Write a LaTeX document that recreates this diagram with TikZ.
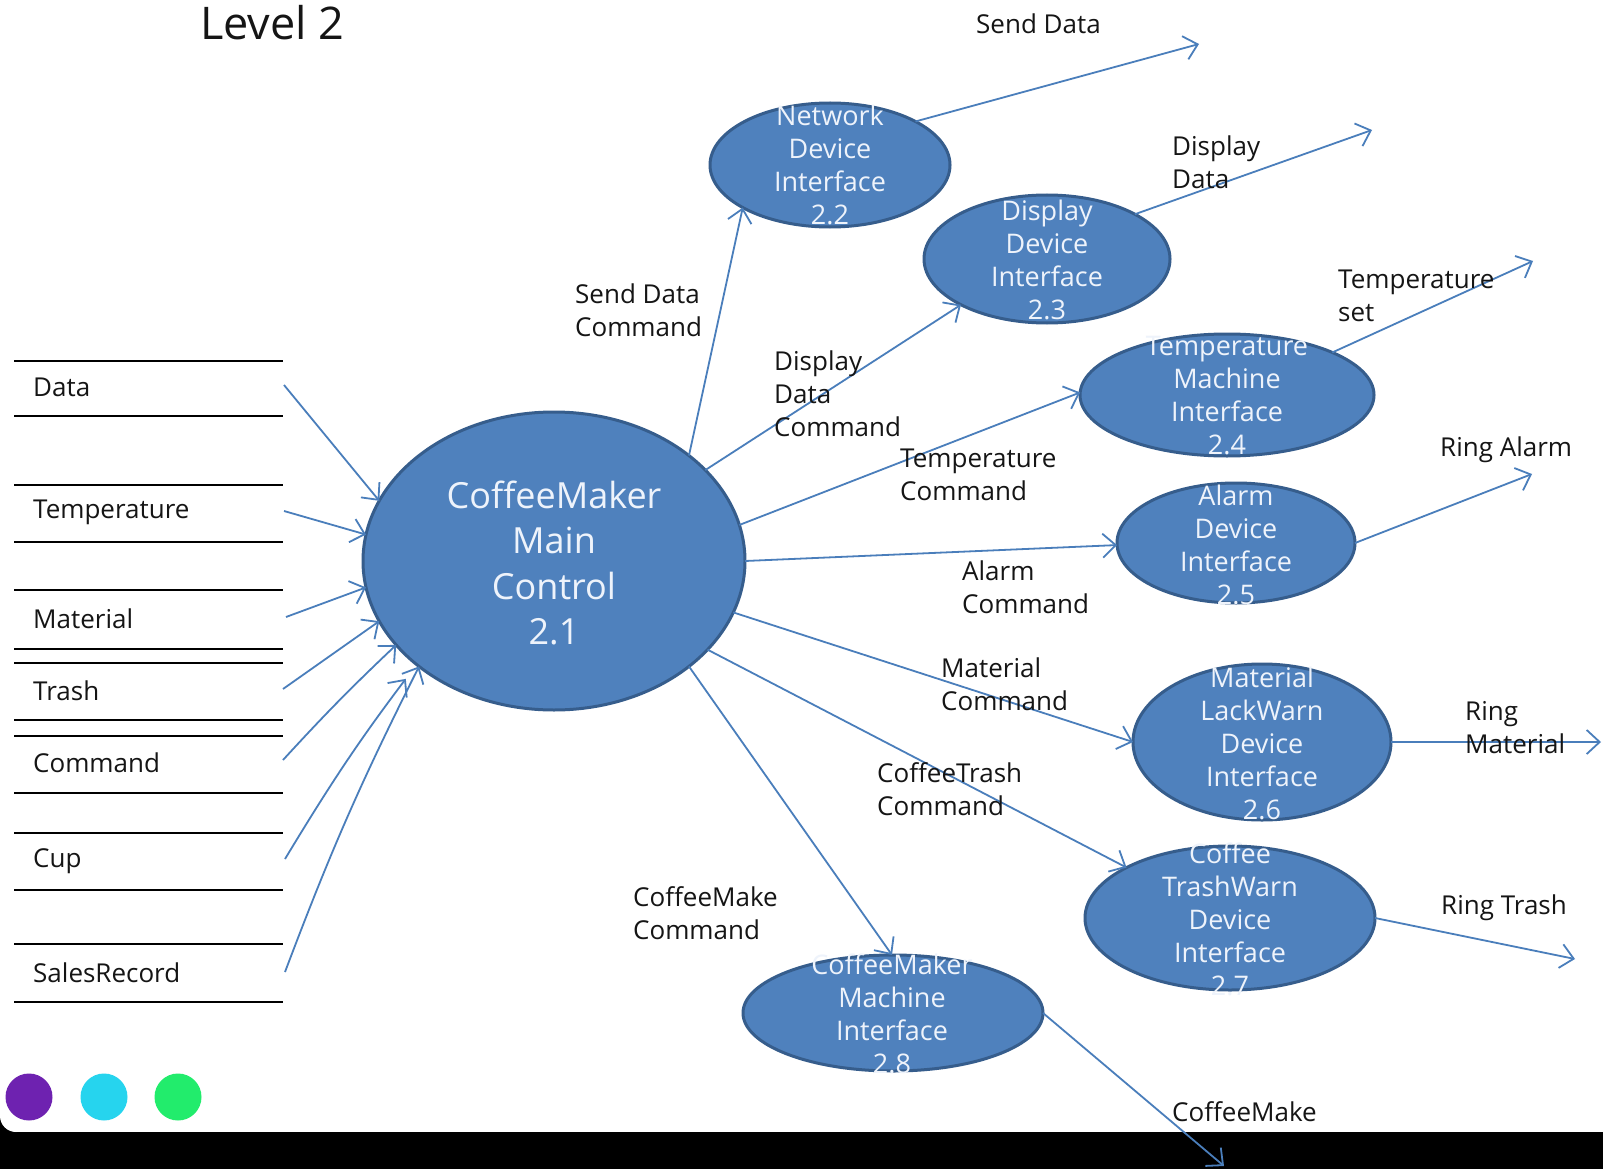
\documentclass[tikz,border=0pt]{standalone}
\usepackage{fontspec}
\setmainfont{Open Sans}
\usetikzlibrary{shapes.geometric,arrows.meta}
\definecolor{ellF}{HTML}{4F81BD}
\definecolor{ellB}{HTML}{365D8C}
\definecolor{arr}{HTML}{4A7EBB}
\definecolor{purp}{HTML}{6E22B0}
\definecolor{cyanc}{HTML}{26D4EE}
\definecolor{greenc}{HTML}{22EC6C}
\definecolor{txt}{HTML}{151515}
\definecolor{etxt}{HTML}{EEF3FB}
\begin{document}
\begin{tikzpicture}[x=1pt,y=-1pt,
 ell/.style={ellipse, draw=ellB, fill=ellF, line width=3pt, inner sep=0pt, outer sep=0pt},
 etext/.style={text=etxt, align=center, font=\fontsize{27}{33}\selectfont, inner sep=0pt},
 mtext/.style={text=etxt, align=center, font=\fontsize{36}{45.5}\selectfont, inner sep=0pt},
 lbl/.style={text=txt, align=left, anchor=west, inner sep=0pt, font=\fontsize{26}{33}\selectfont},
 flowarrow/.style={draw=arr, line width=1.8pt, -{Straight Barb[length=13pt,width=24pt]}},
 tabline/.style={draw=black, line width=2pt},
]
\useasboundingbox (0,0) rectangle (1603,1169);
\fill[white] (0,0) rectangle (1603,1169);
% bottom bar
\fill[black] (0,1132) rectangle (1603,1169);
\fill[black] (0,1112) rectangle (16,1132);
\fill[white] (16,1116) circle[radius=16];
\fill[white] (0,1100) rectangle (32,1116);
\fill[white] (32,1100) rectangle (40,1132);

% title
\node[text=txt, anchor=west, inner sep=0pt, font=\fontsize{45}{50}\selectfont] (title) at (200,23) {Level 2};

% left data stores
\foreach \ya/\yb in {361/416, 485/542, 590/649, 663/720, 736/793, 833/890, 944/1002}{
  \draw[tabline] (14,\ya) -- (283,\ya);
  \draw[tabline] (14,\yb) -- (283,\yb);
}
\node[lbl] (iData) at (33,387) {Data};
\node[lbl] (iTemp) at (33,512) {Temperature};
\node[lbl] (iMat) at (33,619) {Material};
\node[lbl] (iTrash) at (33,691) {Trash};
\node[lbl] (iCmd) at (33,763) {Command};
\node[lbl] (iCup) at (33,861) {Cup};
\node[lbl] (iSales) at (33,973) {SalesRecord};

% processes
\node[ell, minimum width=382pt, minimum height=298pt] (main) at (554,561) {};
\node[ell, minimum width=240pt, minimum height=124pt] (n22) at (830,165) {};
\node[ell, minimum width=246pt, minimum height=128pt] (n23) at (1047,259) {};
\node[ell, minimum width=294pt, minimum height=122pt] (n24) at (1227,395) {};
\node[ell, minimum width=238pt, minimum height=120pt] (n25) at (1236,543) {};
\node[ell, minimum width=258pt, minimum height=156pt] (n26) at (1262,742) {};
\node[ell, minimum width=290pt, minimum height=144pt] (n27) at (1230,918) {};
\node[ell, minimum width=300pt, minimum height=116pt] (n28) at (893,1013) {};

% coordinates
\coordinate (sData) at (284,385);
\coordinate (sTemp) at (284,511);
\coordinate (sMat) at (286,617);
\coordinate (sTrash) at (283,689);
\coordinate (sCmd) at (283,760);
\coordinate (sCup) at (285,859);
\coordinate (sSales) at (285,972);
\coordinate (oSD) at (1199,44);
\coordinate (oDD) at (1372,130);
\coordinate (oTS) at (1533,261);
\coordinate (oRA) at (1532,474);
\coordinate (oRM) at (1601,742);
\coordinate (oRT) at (1575,959);
\coordinate (oCM) at (1224,1166);

% inputs
\draw[flowarrow] (sData) -- (main.161.2);
\draw[flowarrow] (sTemp) -- (main.172.8);
\draw[flowarrow] (sMat) -- (main.188.9);
\draw[flowarrow] (sTrash) -- (main.199.2);
\draw[flowarrow] (sCmd) to[bend left=2] (main.208.2);
\draw[flowarrow, shorten >=18pt] (sCup) to[bend left=3] (main.217.5);
\draw[flowarrow] (sSales) to[bend left=3] (main.218.2);

% main to processes
\draw[flowarrow] (main.38.4) -- (n22.206.6);
\draw[flowarrow] (main.31.1) -- (n23.208.1);
\draw[flowarrow] (main.11.1) -- (n24.179.2);
\draw[flowarrow] (main.0.3) -- (n25.181);
\draw[flowarrow] (main.-16.7) -- (n26.180);
\draw[flowarrow] (main.-30.3) -- (n27.154.6);
\draw[flowarrow] (main.-38.5) -- (n28.91);

% outputs
\draw[flowarrow] (n22.27.4) -- (oSD);
\draw[flowarrow] (n23.27.1) -- (oDD);
\draw[flowarrow] (n24.22.5) -- (oTS);
\draw[flowarrow] (n25.0.5) -- (oRA);
\draw[flowarrow] (n26.0) -- (oRM);
\draw[flowarrow] (n27.-0.4) -- (oRT);
\draw[flowarrow] (n28.-0.8) -- (oCM);

% process texts
\node[mtext] (mainT) at (554,563) {CoffeeMaker\\Main\\Control\\2.1};
\node[etext] (n22T) at (830,165) {Network\\Device\\Interface\\2.2};
\node[etext] (n23T) at (1047,260) {Display\\Device\\Interface\\2.3};
\node[etext] (n24T) at (1227,396) {Temperature\\Machine\\Interface\\2.4};
\node[etext] (n25T) at (1236,545) {Alarm\\Device\\Interface\\2.5};
\node[etext] (n26T) at (1262,743) {Material\\LackWarn\\Device\\Interface\\2.6};
\node[etext] (n27T) at (1230,919) {Coffee\\TrashWarn\\Device\\Interface\\2.7};
\node[etext] (n28T) at (892,1014) {CoffeeMaker\\Machine\\Interface\\2.8};

% flow labels
\node[lbl] (lSD) at (976,24) {Send Data};
\node[lbl] (lSDC) at (575,310) {Send Data\\Command};
\node[lbl] (lDD) at (1172,162) {Display\\Data};
\node[lbl] (lDDC) at (774,394) {Display\\Data\\Command};
\node[lbl] (lTS) at (1338,296) {Temperature\\set};
\node[lbl] (lTC) at (900,475) {Temperature\\Command};
\node[lbl] (lRA) at (1440,450) {Ring Alarm};
\node[lbl] (lAC) at (962,587) {Alarm\\Command};
\node[lbl] (lMC) at (941,684) {Material\\Command};
\node[lbl] (lRM) at (1465,728) {Ring\\Material};
\node[lbl] (lCTC) at (877,789) {CoffeeTrash\\Command};
\node[lbl] (lRT) at (1441,908) {Ring Trash};
\node[lbl] (lCMC) at (633,913) {CoffeeMake\\Command};
\node[lbl] (lCM) at (1172,1112) {CoffeeMake};

% dots
\fill[purp] (29,1097) circle[radius=23.5];
\fill[cyanc] (104,1097) circle[radius=23.5];
\fill[greenc] (178,1097) circle[radius=23.5];
\end{tikzpicture}
\end{document}
